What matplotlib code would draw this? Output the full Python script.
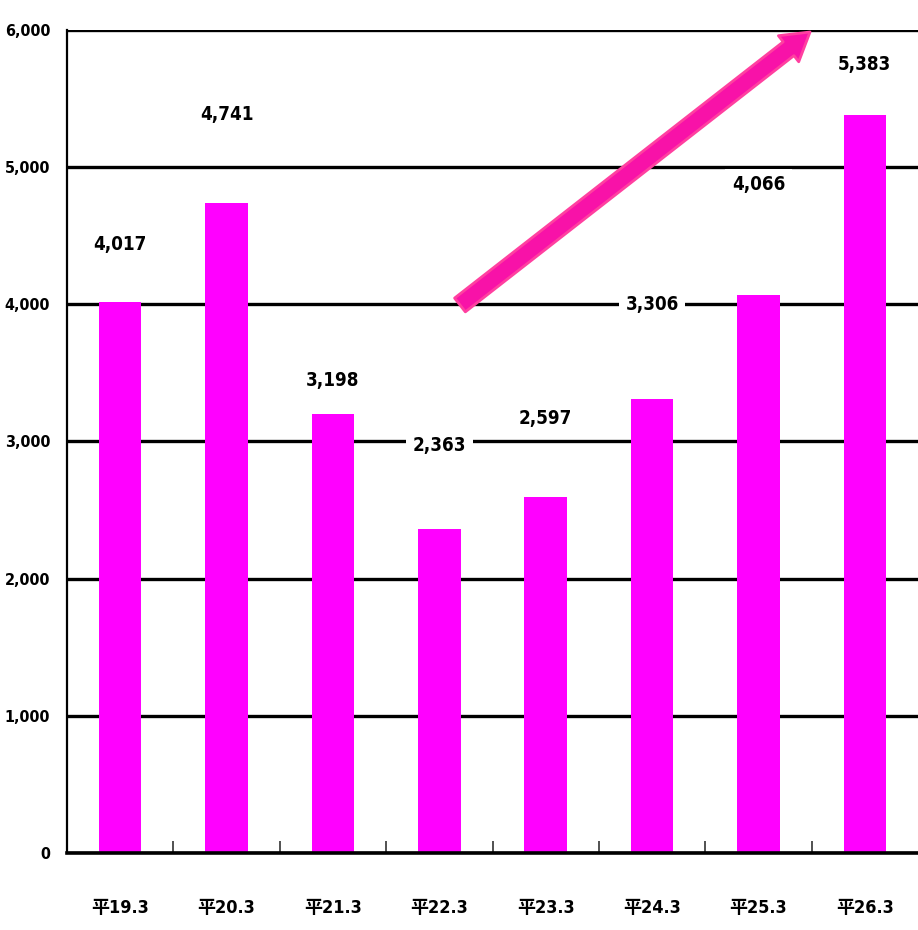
import matplotlib
matplotlib.use('Agg')
import matplotlib.pyplot as plt
from matplotlib.ticker import FixedLocator

# data
periods = ['平19.3', '平20.3', '平21.3', '平22.3', '平23.3', '平24.3', '平25.3', '平26.3']
counts = [4017, 4741, 3198, 2363, 2597, 3306, 4066, 5383]
# where each value label sits (y, in axis units)
label_y = [4433, 5380, 3448, 2974, 3171, 3995, 4870, 5745]

plt.rcParams['font.family'] = ['DejaVu Sans', 'Noto Sans CJK JP']
plt.rcParams['font.weight'] = 'bold'
plt.rcParams['font.stretch'] = 'condensed'

fig = plt.figure(figsize=(9.18, 9.30), dpi=100)
ax = fig.add_axes([0.073, 0.0828, 0.927, 0.885])

x = list(range(len(periods)))
ax.bar(x, counts, width=0.40, color='#FF00FF', zorder=3)

ax.set_xlim(-0.5, len(periods) - 0.5)
ax.set_ylim(0, 6000)
ax.set_yticks(range(0, 6001, 1000))
ax.set_yticklabels(['{:,}'.format(v) for v in range(0, 6001, 1000)], fontsize=11.5)
ax.set_xticks(x)
ax.set_xticklabels(periods, fontsize=13)
ax.tick_params(axis='x', which='major', length=0, pad=33)
ax.tick_params(axis='y', which='major', length=0, pad=12)
ax.xaxis.set_minor_locator(FixedLocator([i + 0.5 for i in range(len(periods) - 1)]))
ax.tick_params(axis='x', which='minor', direction='in', length=9, width=1.2, color='#333333')

ax.grid(axis='y', color='black', linewidth=2.4, zorder=1)
ax.set_axisbelow(True)
for s in ['top', 'right']:
    ax.spines[s].set_visible(False)
ax.spines['left'].set_linewidth(1.6)
ax.spines['bottom'].set_linewidth(2.6)
ax.spines['bottom'].set_zorder(4)

for xi, v, ly in zip(x, counts, label_y):
    ax.text(xi, ly, '{:,}'.format(v), ha='center', va='center', fontsize=13.5,
            zorder=5, bbox=dict(boxstyle='square,pad=0.35', fc='white', ec='none'))

# trend arrow
ax.annotate('', xy=(6.485, 5985), xytext=(3.194, 3995), zorder=6,
            arrowprops=dict(arrowstyle='simple,head_width=1.7,head_length=1.4,tail_width=0.9',
                            fc='#F812A8', ec='#FF40A0', lw=2, mutation_scale=14,
                            shrinkA=0, shrinkB=0))

fig.savefig('out.png', dpi=100)
